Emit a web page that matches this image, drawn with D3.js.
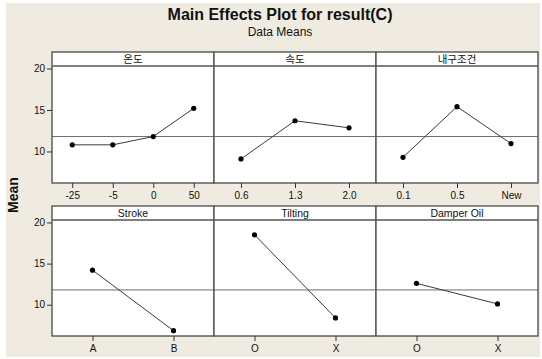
<!DOCTYPE html>
<html>
<head>
<meta charset="utf-8">
<script src="https://cdn.jsdelivr.net/npm/d3@7"></script>
<style>
  body { margin: 0; background: #fff; }
  text { font-family: "Liberation Sans", "Noto Sans CJK KR", sans-serif; fill: #111; }
</style>
</head>
<body>
<script>
// factor names, in panel order (row by row)
var factors = ["온도", "속도", "내구조건", "Stroke", "Tilting", "Damper Oil"];
// levels of each factor
var levels = [
  ["-25", "-5", "0", "50"],
  ["0.6", "1.3", "2.0"],
  ["0.1", "0.5", "New"],
  ["A", "B"],
  ["O", "X"],
  ["O", "X"]
];
// data means
var means = [
  [10.8, 10.8, 11.8, 15.2],
  [9.1, 13.7, 12.85],
  [9.3, 15.4, 10.95],
  [14.2, 6.85],
  [18.5, 8.4],
  [12.6, 10.1]
];
var grandMean = 11.8;
var yTicks = [10, 15, 20];

var W = 542, H = 359;
var svg = d3.select("body").append("svg").attr("width", W).attr("height", H);

svg.append("rect").attr("x", 6).attr("y", 3).attr("width", 534).attr("height", 354)
  .attr("fill", "#efebe1");

svg.append("text").attr("x", 280).attr("y", 20).attr("text-anchor", "middle")
  .style("font-size", "16px").style("font-weight", "bold")
  .text("Main Effects Plot for result(C)");
svg.append("text").attr("x", 280).attr("y", 36).attr("text-anchor", "middle")
  .style("font-size", "12px")
  .text("Data Means");

svg.append("text").attr("transform", "translate(18,195) rotate(-90)")
  .attr("text-anchor", "middle").style("font-size", "14px").style("font-weight", "bold")
  .text("Mean");

var left = 52, right = 538, pw = (right - left) / 3, stripH = 14;
var rows = [{top: 52, bottom: 183}, {top: 206, bottom: 336}];

factors.forEach(function (name, i) {
  var row = rows[Math.floor(i / 3)],
      col = i % 3,
      x0 = left + col * pw;

  var x = d3.scalePoint().domain(levels[i]).range([x0, x0 + pw]).padding(0.5);
  var y = d3.scaleLinear().domain([6.2, 20.3]).range([row.bottom, row.top + stripH]);

  var g = svg.append("g");

  g.append("rect").attr("x", x0).attr("y", row.top).attr("width", pw)
    .attr("height", row.bottom - row.top).attr("fill", "#fff");

  // reference line at the overall mean
  g.append("line").attr("x1", x0).attr("x2", x0 + pw)
    .attr("y1", y(grandMean)).attr("y2", y(grandMean))
    .attr("stroke", "#6e6e6e").attr("stroke-width", 1);

  var pts = levels[i].map(function (l, j) { return [x(l), y(means[i][j])]; });
  g.append("path").attr("d", d3.line()(pts)).attr("fill", "none")
    .attr("stroke", "#3a3a3a").attr("stroke-width", 1);
  g.selectAll("circle").data(pts).enter().append("circle")
    .attr("cx", function (d) { return d[0]; }).attr("cy", function (d) { return d[1]; })
    .attr("r", 2.6).attr("fill", "#000");

  // strip
  g.append("line").attr("x1", x0).attr("x2", x0 + pw)
    .attr("y1", row.top + stripH).attr("y2", row.top + stripH)
    .attr("stroke", "#555").attr("stroke-width", 1.3);
  g.append("text").attr("x", x0 + pw / 2).attr("y", row.top + 11)
    .attr("text-anchor", "middle").style("font-size", "10.5px").text(name);

  g.append("rect").attr("x", x0).attr("y", row.top).attr("width", pw)
    .attr("height", row.bottom - row.top).attr("fill", "none")
    .attr("stroke", "#555").attr("stroke-width", 1.4);

  var xa = g.append("g").attr("transform", "translate(0," + row.bottom + ")")
    .call(d3.axisBottom(x).tickSize(5).tickPadding(4));
  xa.select(".domain").remove();
  xa.selectAll("line").attr("stroke", "#333");
  xa.selectAll("text").style("font-size", "10px").attr("fill", "#111");

  if (col === 0) {
    var ya = g.append("g").attr("transform", "translate(" + x0 + ",0)")
      .call(d3.axisLeft(y).tickValues(yTicks).tickSize(5).tickPadding(2));
    ya.select(".domain").remove();
    ya.selectAll("line").attr("stroke", "#333");
    ya.selectAll("text").style("font-size", "10px").attr("fill", "#111");
  }
});
</script>
</body>
</html>
